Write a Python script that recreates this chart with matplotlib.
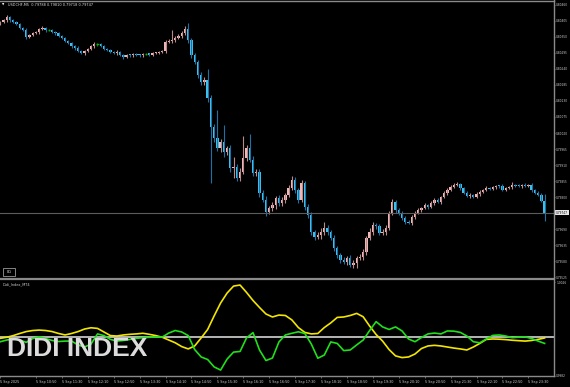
import matplotlib
matplotlib.use("Agg")
import matplotlib.pyplot as plt
import numpy as np
from matplotlib.lines import Line2D
from matplotlib.patches import Rectangle
import matplotlib.transforms as mtransforms

# ---- data: USDCHF M5, 5 Sep 2025, bars from 09:55 to 23:55 (prices in points, 1e-5)
symbol = "USDCHF,M5"
first_open = 80395
close_pts = [
    80401, 80407, 80418, 80407, 80401, 80394, 80380, 80373, 80349, 80356,
    80363, 80365, 80377, 80380, 80373, 80373, 80366, 80363, 80353, 80346,
    80335, 80329, 80318, 80311, 80301, 80294, 80301, 80308, 80318, 80325,
    80325, 80318, 80308, 80305, 80298, 80294, 80298, 80287, 80281, 80287,
    80286, 80291, 80287, 80286, 80291, 80291, 80289, 80294, 80295, 80298,
    80301, 80332, 80335, 80339, 80346, 80353, 80363, 80377, 80339, 80287,
    80263, 80219, 80195, 80202, 80140, 80041, 80003, 79969, 79989, 79955,
    79969, 79900, 79904, 79866, 79887, 79935, 79969, 79928, 79883, 79887,
    79815, 79791, 79749, 79763, 79773, 79797, 79780, 79791, 79808, 79832,
    79859, 79825, 79791, 79849, 79767, 79739, 79681, 79664, 79671, 79681,
    79695, 79681, 79660, 79626, 79602, 79585, 79578, 79592, 79568, 79575,
    79592, 79595, 79612, 79660, 79681, 79705, 79701, 79677, 79681, 79695,
    79746, 79784, 79756, 79746, 79729, 79715, 79712, 79732, 79746, 79756,
    79763, 79773, 79767, 79780, 79791, 79784, 79801, 79815, 79825, 79835,
    79842, 79845, 79832, 79815, 79804, 79808, 79801, 79811, 79818, 79825,
    79832, 79828, 79835, 79839, 79838, 79825, 79832, 79835, 79842, 79839,
    79838, 79842, 79839, 79842, 79825, 79815, 79808, 79788, 79747,
]
upper_wick = [
    4, 5, 7, 3, 4, 3, 4, 5, 6, 4,
    3, 5, 4, 6, 3, 4, 5, 3, 4, 3,
    4, 5, 3, 4, 6, 3, 5, 4, 3, 6,
    4, 3, 5, 4, 3, 4, 6, 3, 4, 5,
    3, 4, 5, 3, 4, 4, 3, 5, 4, 3,
    5, 8, 6, 34, 5, 7, 6, 9, 20, 6,
    8, 7, 10, 9, 38, 12, 9, 96, 10, 59,
    8, 11, 34, 9, 12, 76, 10, 47, 12, 8,
    10, 9, 12, 8, 10, 7, 9, 11, 8, 10,
    12, 9, 8, 11, 7, 9, 10, 8, 11, 12,
    21, 8, 7, 9, 6, 8, 10, 7, 9, 8,
    7, 9, 10, 8, 12, 9, 7, 8, 10, 9,
    8, 10, 7, 6, 8, 5, 7, 6, 5, 6,
    5, 7, 4, 6, 5, 7, 4, 6, 5, 7,
    6, 8, 5, 4, 6, 5, 4, 6, 5, 4,
    6, 4, 5, 3, 4, 6, 4, 5, 10, 4,
    5, 4, 6, 4, 5, 4, 5, 6, 22,
]
lower_wick = [
    3, 4, 5, 6, 3, 4, 5, 3, 6, 4,
    5, 3, 4, 3, 5, 4, 3, 6, 4, 5,
    3, 4, 6, 5, 3, 4, 5, 3, 4, 5,
    6, 4, 3, 5, 4, 3, 5, 4, 6, 3,
    4, 5, 3, 4, 6, 3, 5, 4, 3, 4,
    4, 6, 5, 8, 6, 5, 7, 6, 9, 10,
    8, 11, 9, 10, 12, 192, 14, 10, 13, 16,
    9, 12, 34, 11, 10, 9, 12, 8, 11, 10,
    13, 9, 14, 8, 10, 12, 9, 10, 11, 8,
    9, 12, 10, 8, 11, 9, 12, 10, 8, 14,
    9, 10, 8, 11, 9, 10, 8, 12, 9, 10,
    17, 8, 9, 10, 7, 9, 11, 8, 7, 9,
    8, 7, 9, 6, 8, 7, 5, 6, 7, 5,
    6, 5, 7, 4, 6, 5, 7, 4, 6, 5,
    5, 4, 6, 5, 4, 6, 5, 4, 6, 5,
    4, 5, 4, 6, 5, 4, 5, 4, 6, 5,
    4, 5, 4, 5, 6, 4, 5, 6, 29,
]

# Didi index, sampled every second bar
didi_short = [
    0.99996, 1.00001, 1.00009, 1.00019, 1.00028, 1.00033, 1.00035, 1.00033, 1.00028, 1.00019,
    1.00012, 1.00019, 1.00028, 1.00040, 1.00046, 1.00043, 1.00026, 1.00009, 1.00007, 1.00012,
    1.00015, 1.00017, 1.00020, 1.00015, 1.00009, 1.00001, 0.99988, 0.99975, 0.99957, 0.99946,
    0.99960, 0.99998, 1.00038, 1.00102, 1.00163, 1.00210, 1.00243, 1.00248, 1.00213, 1.00175,
    1.00142, 1.00111, 1.00097, 1.00106, 1.00104, 1.00083, 1.00047, 1.00024, 1.00017, 1.00019,
    1.00047, 1.00069, 1.00095, 1.00097, 1.00104, 1.00114, 1.00098, 1.00054, 1.00014, 0.99983,
    0.99943, 0.99913, 0.99905, 0.99908, 0.99922, 0.99948, 0.99960, 0.99963, 0.99960, 0.99955,
    0.99950, 0.99946, 0.99941, 0.99955, 0.99972, 0.99991, 0.99993, 0.99992, 0.99990, 0.99987,
    0.99985, 0.99983, 0.99986, 0.99991, 0.99998,
]
didi_long = [
    0.99980, 0.99988, 0.99993, 0.99988, 0.99977, 0.99995, 1.00003, 0.99995, 0.99986, 0.99981,
    0.99983, 0.99983, 0.99965, 0.99955, 0.99969, 1.00017, 1.00009, 0.99991, 0.99983, 0.99986,
    0.99991, 0.99996, 0.99999, 1.00001, 1.00003, 1.00002, 1.00021, 1.00033, 1.00026, 1.00009,
    0.99943, 0.99908, 0.99896, 0.99861, 0.99846, 0.99898, 0.99931, 0.99934, 0.99998, 1.00023,
    0.99941, 0.99891, 0.99903, 0.99979, 1.00012, 1.00020, 1.00027, 1.00019, 0.99969, 0.99902,
    0.99917, 0.99979, 0.99972, 0.99938, 0.99941, 0.99965, 0.99988, 1.00033, 1.00075, 1.00050,
    1.00038, 1.00050, 1.00031, 0.99993, 0.99980, 1.00000, 1.00017, 1.00021, 1.00017, 1.00031,
    1.00030, 1.00024, 1.00007, 0.99980, 0.99975, 0.99993, 1.00010, 1.00012, 1.00007, 0.99999,
    1.00002, 1.00003, 0.99995, 0.99983, 0.99972,
]

price_ticks = [0.80460, 0.80405, 0.80350, 0.80295, 0.80240, 0.80185, 0.80130, 0.80075,
               0.80020, 0.79965, 0.79910, 0.79855, 0.79800, 0.79690, 0.79635, 0.79580, 0.79525]
ind_ticks = [0.9982, 1.0026]
start_time = "09:55"
time_labels = ["5 Sep 2025", "5 Sep 10:50", "5 Sep 11:30", "5 Sep 12:10", "5 Sep 12:50",
               "5 Sep 13:30", "5 Sep 14:10", "5 Sep 14:50", "5 Sep 15:30", "5 Sep 16:10",
               "5 Sep 16:50", "5 Sep 17:30", "5 Sep 18:10", "5 Sep 18:50", "5 Sep 19:30",
               "5 Sep 20:10", "5 Sep 20:50", "5 Sep 21:30", "5 Sep 22:10", "5 Sep 22:50",
               "5 Sep 23:30"]

BULL = '#f3b7b9'
BEAR = '#3cc3ef'
GRAY = '#8a8a8a'
W, H = 570, 387
LBL = 2.1  # axis label size


def fx(x):
    return x / W


def fy(y):
    return 1 - y / H


def bar_of(label):
    hhmm = label.split()[-1]
    if ":" not in hhmm:
        return 0
    h, m = map(int, hhmm.split(":"))
    h0, m0 = map(int, start_time.split(":"))
    return ((h * 60 + m) - (h0 * 60 + m0)) // 5


c_pts = np.array(close_pts)
o_pts = np.array([first_open] + close_pts[:-1])
o = o_pts / 1e5
c = c_pts / 1e5
hi = np.maximum(o, c) + np.array(upper_wick) / 1e5
lo = np.minimum(o, c) - np.array(lower_wick) / 1e5
idx = np.arange(len(c))
up = c_pts > o_pts
dn = c_pts < o_pts
dj = c_pts == o_pts

fig = plt.figure(figsize=(W / 100, H / 100), dpi=100, facecolor='black')
ax1 = fig.add_axes([0, fy(278), fx(554), 278 / H])
ax2 = fig.add_axes([0, fy(376), fx(554), (376 - 279) / H])
for ax in (ax1, ax2):
    ax.set_facecolor('black')
    for s in ax.spines.values():
        s.set_visible(False)
    ax.set_xlim(-0.09, 170.9)

# candles
ax1.vlines(idx[up], lo[up], hi[up], color='#b9898b', lw=0.8)
ax1.vlines(idx[dn], lo[dn], hi[dn], color='#1f70a6', lw=0.8)
ax1.vlines(idx[dj], lo[dj], hi[dj], color='#0a8a0a', lw=0.8)
ax1.bar(idx[up], np.maximum((c - o)[up], 0.00004), bottom=o[up], width=0.72, color=BULL, lw=0)
ax1.bar(idx[dn], np.maximum((o - c)[dn], 0.00004), bottom=c[dn], width=0.72, color=BEAR, lw=0)
ax1.hlines(c[dj], idx[dj] - 0.36, idx[dj] + 0.36, color='#00b400', lw=1.0)

last = c[-1]
ax1.axhline(last, color='#5c5c5c', lw=0.8)
ax1.set_ylim(0.79523, 0.80476)
ax1.yaxis.tick_right()
ax1.set_yticks(price_ticks)
ax1.set_yticklabels([f"{p:.5f}" for p in price_ticks])
ax1.tick_params(axis='y', colors='#cfcfcf', labelsize=LBL, length=1.0, width=0.5, pad=0.6)
ax1.tick_params(axis='y', color=GRAY)
ax1.set_xticks([])
trans = mtransforms.blended_transform_factory(ax1.transAxes, ax1.transData)
ax1.text(1.0035, last, f"{last:.5f}", transform=trans, fontsize=LBL, color='black',
         va='center', ha='left',
         bbox=dict(boxstyle='square,pad=0.2', facecolor='#e8e8e8', edgecolor='none'))

# Didi index panel
ind_x = np.arange(0, len(c), 2)
ax2.axhline(1.0, color='#c4c4c4', lw=1.3)
ax2.plot(ind_x, didi_short, color='#f2e600', lw=1.2, solid_joinstyle='round')
ax2.plot(ind_x, didi_long, color='#1fe01a', lw=1.2, solid_joinstyle='round')
ax2.set_ylim(0.99818, 1.002765)
ax2.yaxis.tick_right()
ax2.set_yticks(ind_ticks)
ax2.set_yticklabels([f"{v:.4f}" for v in ind_ticks])
ax2.tick_params(axis='y', colors='#cfcfcf', labelsize=LBL, length=1.0, width=0.5, pad=0.6)
ax2.tick_params(axis='y', color=GRAY)
ax2.set_xticks([bar_of(t) for t in time_labels])
ax2.set_xticklabels(time_labels, ha='left')
ax2.tick_params(axis='x', colors='#cfcfcf', labelsize=2.4, length=1.5, width=0.5, pad=1.5)
ax2.tick_params(axis='x', color=GRAY)

# frame lines
for (x0, y0, x1, y1, lw) in [(0, 0.5, 554, 0.5, 1.0), (0, 278.5, 554, 278.5, 1.6),
                             (0, 376.3, 554, 376.3, 1.0), (554, 0, 554, 376.3, 1.0)]:
    fig.add_artist(Line2D([fx(x0), fx(x1)], [fy(y0), fy(y1)], color=GRAY, lw=lw,
                          transform=fig.transFigure))

# texts
fig.text(fx(2), fy(4.5), "\u25bc", fontsize=2.2, color='white', va='center', ha='left')
fig.text(fx(8), fy(4.5), f"{symbol}  0.79788 0.79810 0.79718 0.79747", fontsize=2.5,
         color='#e0e0e0', va='center', ha='left')
fig.text(fx(3), fy(284.5), "Didi_Index_MT4", fontsize=2.5, color='#d0d0d0', va='center', ha='left')
fig.add_artist(Rectangle((fx(3), fy(276)), fx(12), 8 / H, transform=fig.transFigure,
                         facecolor='black', edgecolor='#9a9a9a', lw=0.6))
fig.text(fx(9), fy(272), "BG", fontsize=2.5, color='#d0d0d0', va='center', ha='center')
fig.text(fx(7), fy(348.5), "DIDI INDEX", fontsize=19, fontweight='bold',
         family='Liberation Sans', color='#dcdcdc', va='center', ha='left')

fig.savefig('out.png', dpi=100, facecolor='black')
